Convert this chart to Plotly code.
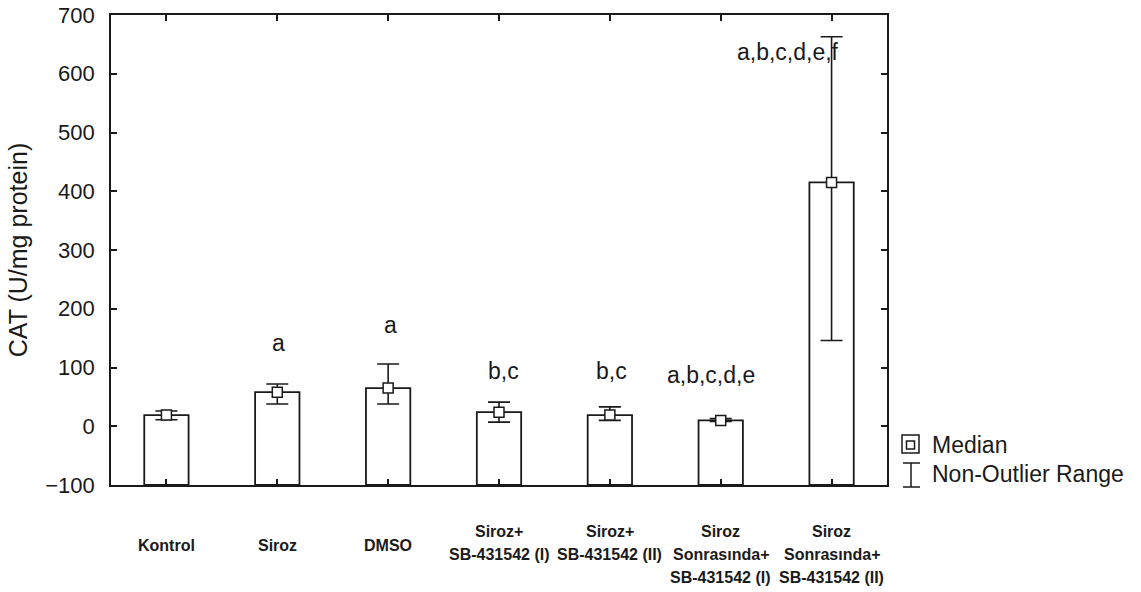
import plotly.graph_objects as go

# ---- data ----
categories = ["Kontrol", "Siroz", "DMSO", "Siroz+ (I)", "Siroz+ (II)",
              "Sonrasında (I)", "Sonrasında (II)"]
tick_labels = ["Kontrol", "Siroz", "DMSO",
               "Siroz+<br>SB-431542 (I)", "Siroz+<br>SB-431542 (II)",
               "Siroz<br>Sonrasında+<br>SB-431542 (I)",
               "Siroz<br>Sonrasında+<br>SB-431542 (II)"]
medians = [19, 58, 65, 24, 19, 10, 415]
range_low = [11, 38, 38, 7, 10, 8, 146]
range_high = [26, 72, 106, 41, 33, 13, 663]
letters = ["", "a", "a", "b,c", "b,c", "a,b,c,d,e", "a,b,c,d,e,f"]
letter_y = [None, 142, 172, 94, 94, 87, 637]
letter_xshift = [0, 1, 2, 4, 2, -10, -44]
y_ticks = [-100, 0, 100, 200, 300, 400, 500, 600, 700]

Y_MIN, Y_MAX = -100, 700
INK = "#1a1a1a"
FONT = "Liberation Sans, Arial, sans-serif"

# plot-area geometry in pixels
W, H = 1141, 592
L, R, T, B = 111, 887, 15, 485
PW, PH = R - L, B - T


def px(x):
    return (x - L) / PW


def py(y):
    return (B - y) / PH


fig = go.Figure()

fig.add_trace(go.Bar(
    x=categories,
    y=[m - Y_MIN for m in medians],
    base=Y_MIN,
    width=0.4,
    marker=dict(color="white", line=dict(color=INK, width=1.8)),
    hoverinfo="skip",
    showlegend=False,
))

fig.add_trace(go.Scatter(
    x=categories,
    y=medians,
    mode="markers",
    marker=dict(symbol="square", size=10, color="white",
                line=dict(color=INK, width=1.5)),
    error_y=dict(type="data", symmetric=False,
                 array=[h - m for h, m in zip(range_high, medians)],
                 arrayminus=[m - l for m, l in zip(medians, range_low)],
                 color=INK, thickness=1.6, width=11),
    showlegend=False,
))

annotations = []
for c, t, yv, xs in zip(categories, letters, letter_y, letter_xshift):
    if t:
        annotations.append(dict(
            x=c, y=yv, xref="x", yref="y", text=t, showarrow=False,
            xshift=xs, yanchor="middle",
            font=dict(family=FONT, size=23, color=INK)))

# category labels under the axis, one annotation per line
for c, lab in zip(categories, tick_labels):
    lines = lab.split("<br>")
    first = -46 if len(lines) > 1 else -60
    for i, line in enumerate(lines):
        annotations.append(dict(
            x=c, y=0, xref="x", yref="paper", text=line, showarrow=False,
            yanchor="middle", yshift=first - 23 * i,
            font=dict(family=FONT, size=16, color=INK, weight="bold")))

# legend (manual)
annotations.append(dict(x=px(930), y=py(445), xref="paper", yref="paper",
                        text="Median", showarrow=False, xanchor="left",
                        yanchor="middle",
                        font=dict(family=FONT, size=23, color=INK)))
annotations.append(dict(x=px(930), y=py(474), xref="paper", yref="paper",
                        text="Non-Outlier Range", showarrow=False,
                        xanchor="left", yanchor="middle",
                        font=dict(family=FONT, size=23, color=INK)))

shapes = [
    dict(type="rect", xref="paper", yref="paper",
         x0=px(902), x1=px(919), y0=py(453), y1=py(435),
         line=dict(color=INK, width=1.5)),
    dict(type="rect", xref="paper", yref="paper",
         x0=px(906.5), x1=px(914.5), y0=py(449), y1=py(441),
         line=dict(color=INK, width=1.5)),
    dict(type="line", xref="paper", yref="paper",
         x0=px(911), x1=px(911), y0=py(487), y1=py(463),
         line=dict(color=INK, width=1.5)),
    dict(type="line", xref="paper", yref="paper",
         x0=px(903), x1=px(920), y0=py(463), y1=py(463),
         line=dict(color=INK, width=1.5)),
    dict(type="line", xref="paper", yref="paper",
         x0=px(903), x1=px(920), y0=py(487), y1=py(487),
         line=dict(color=INK, width=1.5)),
]

fig.update_layout(
    width=W, height=H,
    margin=dict(l=L, r=W - R, t=T, b=H - B, pad=0, autoexpand=False),
    paper_bgcolor="white", plot_bgcolor="white",
    annotations=annotations, shapes=shapes,
    font=dict(family=FONT, color=INK),
)

fig.update_xaxes(
    type="category", range=[-0.5, 6.5], automargin=False,
    showline=True, linecolor=INK, linewidth=1.8, mirror="ticks",
    ticks="inside", ticklen=6, tickwidth=1.5, tickcolor=INK,
    showticklabels=False, showgrid=False, zeroline=False,
)
fig.update_yaxes(
    range=[Y_MIN, Y_MAX], tickvals=y_ticks, automargin=False,
    showline=True, linecolor=INK, linewidth=1.8, mirror="ticks",
    ticks="inside", ticklen=6, tickwidth=1.5, tickcolor=INK,
    tickfont=dict(size=22, color=INK), ticklabelstandoff=10,
    showgrid=False, zeroline=False,
    title=dict(text="CAT (U/mg protein)", standoff=10,
               font=dict(size=25, color=INK)),
)

fig.write_html("out.html")
